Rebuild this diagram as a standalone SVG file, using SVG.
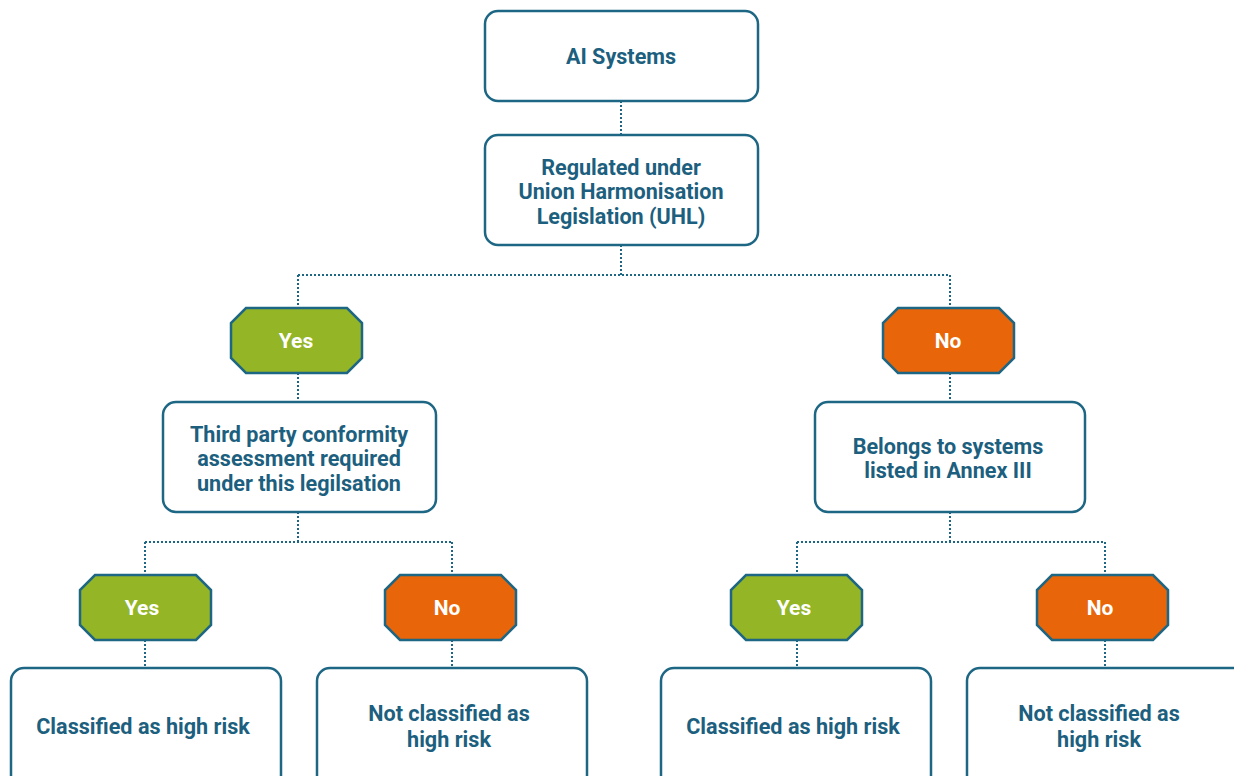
<svg xmlns="http://www.w3.org/2000/svg" width="1234" height="776" viewBox="0 0 1234 776">
<style>
.box{fill:#fff;stroke:#1d6684;stroke-width:2.5}
.oct{stroke:#1d6684;stroke-width:2.5}
.yes{fill:#93b526}
.no{fill:#e8650a}
.t{font-family:Roboto,"Liberation Sans",sans-serif;font-weight:bold;font-size:21.6px;fill:#1d5f7e;text-anchor:middle}
.w{font-family:Roboto,"Liberation Sans",sans-serif;font-weight:bold;font-size:21px;fill:#fff;text-anchor:middle}
.c{fill:none;stroke:#1d6684;stroke-width:2;stroke-dasharray:2 2}
</style>
<rect width="1234" height="776" fill="#fff"/>
<g id="connectors">
<path class="c" d="M621 101V135"/>
<path class="c" d="M621 245V275M298 275H950M298 275V308M950 275V308"/>
<path class="c" d="M298 373V402M950 373V402"/>
<path class="c" d="M298 512V542M145 542H452M145 542V575M452 542V575"/>
<path class="c" d="M950 512V542M797 542H1105M797 542V575M1105 542V575"/>
<path class="c" d="M145 640V668M452 640V668M797 640V668M1105 640V668"/>
</g>
<g id="n-ai"><rect class="box" x="485" y="11" width="273" height="90" rx="13"/><text class="t" x="621" y="64">AI Systems</text></g>
<g id="n-uhl"><rect class="box" x="485" y="135" width="273" height="110" rx="13"/><text class="t" x="621" y="175">Regulated under</text><text class="t" x="621" y="199">Union Harmonisation</text><text class="t" x="621" y="224">Legislation (UHL)</text></g>
<g id="n-yes1"><polygon class="oct yes" points="246,308 347,308 362,323 362,358 347,373 246,373 231,358 231,323"/><text class="w" x="296" y="348">Yes</text></g>
<g id="n-no1"><polygon class="oct no" points="898,308 999,308 1014,323 1014,358 999,373 898,373 883,358 883,323"/><text class="w" x="948" y="348">No</text></g>
<g id="n-third"><rect class="box" x="163" y="402" width="273" height="110" rx="13"/><text class="t" x="299" y="442">Third party conformity</text><text class="t" x="299" y="466">assessment required</text><text class="t" x="299" y="491">under this legilsation</text></g>
<g id="n-annex"><rect class="box" x="815" y="402" width="270" height="110" rx="13"/><text class="t" x="948" y="454">Belongs to systems</text><text class="t" x="948" y="478">listed in Annex III</text></g>
<g id="n-yes2"><polygon class="oct yes" points="95,575 196,575 211,590 211,625 196,640 95,640 80,625 80,590"/><text class="w" x="142" y="615">Yes</text></g>
<g id="n-no2"><polygon class="oct no" points="400,575 501,575 516,590 516,625 501,640 400,640 385,625 385,590"/><text class="w" x="447" y="615">No</text></g>
<g id="n-yes3"><polygon class="oct yes" points="746,575 847,575 862,590 862,625 847,640 746,640 731,625 731,590"/><text class="w" x="794" y="615">Yes</text></g>
<g id="n-no3"><polygon class="oct no" points="1052,575 1153,575 1168,590 1168,625 1153,640 1052,640 1037,625 1037,590"/><text class="w" x="1100" y="615">No</text></g>
<g id="n-high1"><rect class="box" x="11" y="668" width="270" height="120" rx="13"/><text class="t" x="143" y="734">Classified as high risk</text></g>
<g id="n-not1"><rect class="box" x="317" y="668" width="270" height="120" rx="13"/><text class="t" x="449" y="721">Not classified as</text><text class="t" x="449" y="747">high risk</text></g>
<g id="n-high2"><rect class="box" x="661" y="668" width="270" height="120" rx="13"/><text class="t" x="793" y="734">Classified as high risk</text></g>
<g id="n-not2"><rect class="box" x="967" y="668" width="280" height="120" rx="13"/><text class="t" x="1099" y="721">Not classified as</text><text class="t" x="1099" y="747">high risk</text></g>
</svg>
